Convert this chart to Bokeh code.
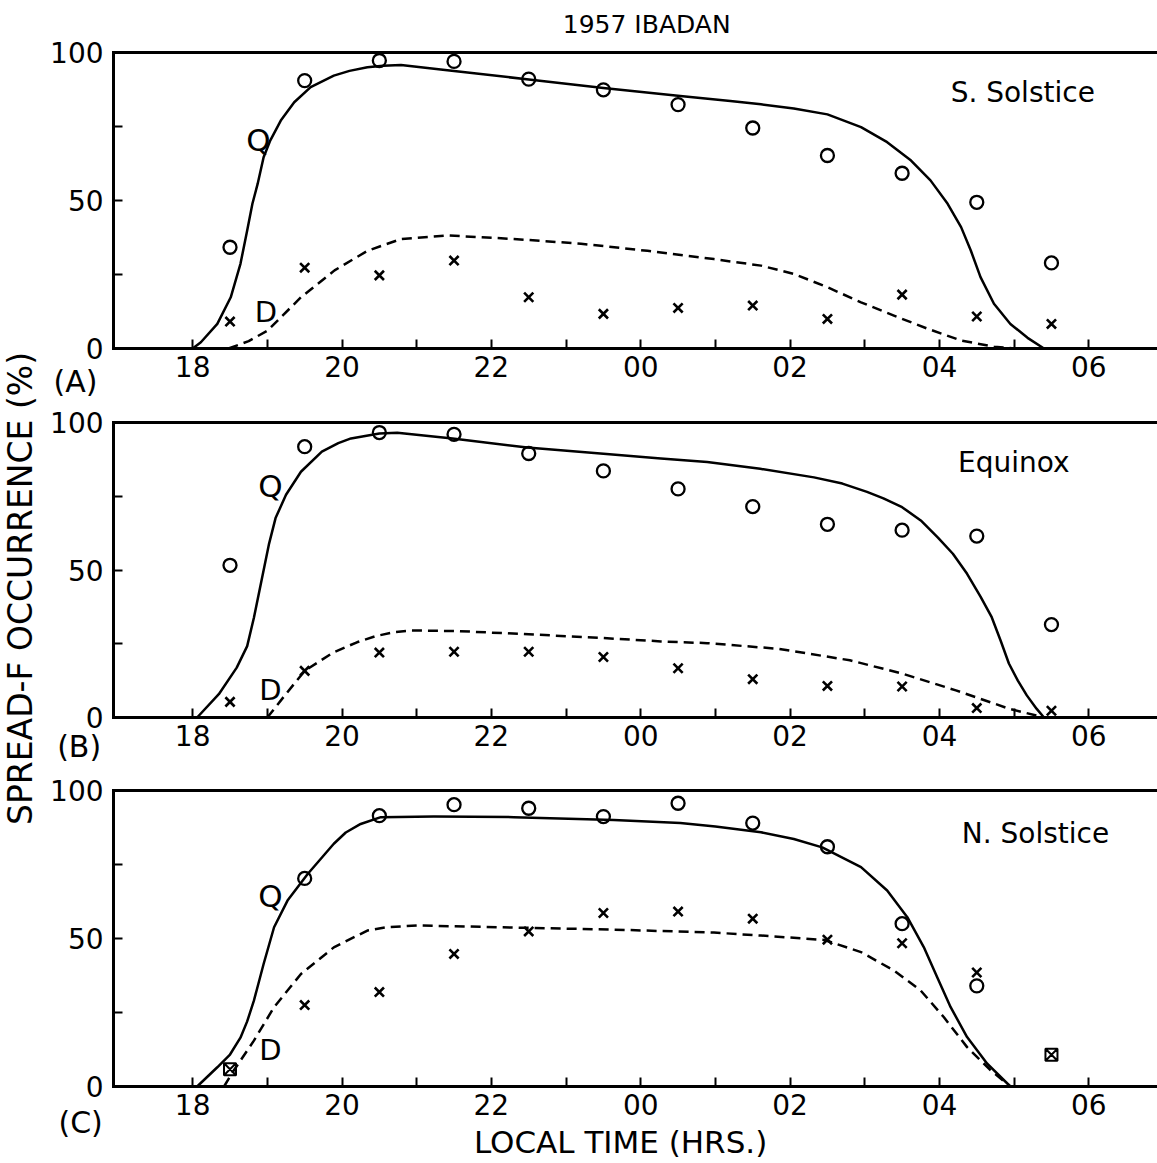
import math
from bokeh.plotting import figure
from bokeh.layouts import column, row
from bokeh.models import Range1d, LinearAxis, FixedTicker, Label
from bokeh.embed import file_html
from bokeh.resources import INLINE

# ---------------- data ----------------
hours = [18.5, 19.5, 20.5, 21.5, 22.5, 23.5, 24.5, 25.5, 26.5, 27.5, 28.5, 29.5]
hour_ticks = [18, 20, 22, 24, 26, 28, 30]
hour_tick_labels = ["18", "20", "22", "00", "02", "04", "06"]
minor_hour_ticks = [19, 21, 23, 25, 27, 29]
pct_ticks = [0, 25, 50, 75, 100]
pct_tick_labels = ["0", "", "50", "", "100"]

# (A) S. Solstice
a_circles = [34.2, 90.5, 97.3, 97.0, 91.0, 87.4, 82.4, 74.5, 65.2, 59.2, 49.4, 28.9]
a_crosses = [9.1, 27.3, 24.7, 29.7, 17.3, 11.7, 13.7, 14.5, 10.0, 18.2, 10.8, 8.3]
a_q_x = [18.0, 18.11, 18.33, 18.51, 18.64, 18.73, 18.8, 18.87, 18.95, 19.04, 19.18, 19.36,
         19.58, 19.89, 20.1, 20.34, 20.55, 20.79, 21.41, 22.53, 23.5, 24.53, 25.2, 25.61,
         26.05, 26.5, 26.95, 27.3, 27.62, 27.88, 28.11, 28.29, 28.42, 28.55, 28.73, 28.95,
         29.18, 29.4]
a_q_y = [0, 2.1, 8.3, 17.3, 28.6, 39.9, 48.9, 55.6, 64.6, 70.3, 77.0, 83.2,
         88.3, 92.2, 93.8, 95.0, 95.5, 95.8, 94.0, 90.8, 88.0, 85.3, 83.6, 82.5,
         81.1, 79.1, 74.8, 69.7, 63.5, 56.8, 48.9, 41.0, 33.1, 24.1, 15.1, 8.3,
         3.6, 0]
a_d_x = [18.48, 18.75, 19.0, 19.45, 19.9, 20.34, 20.79, 21.41, 22.3, 23.2, 24.09, 24.98,
         25.61, 26.05, 26.5, 26.95, 27.39, 27.84, 28.29, 28.73, 29.0]
a_d_y = [0, 2.5, 6.0, 17.3, 26.4, 33.0, 37.0, 38.2, 37.0, 35.4, 33.0, 30.2,
         28.0, 25.2, 20.7, 15.6, 11.1, 6.7, 2.7, 0.6, 0]

# (B) Equinox
b_circles = [51.6, 91.8, 96.6, 96.0, 89.5, 83.6, 77.5, 71.5, 65.5, 63.5, 61.5, 31.5]
b_crosses = [5.3, 15.8, 22.0, 22.3, 22.3, 20.5, 16.7, 13.0, 10.7, 10.5, 3.2, 2.3]
b_q_x = [18.06, 18.35, 18.59, 18.73, 18.82, 18.92, 19.02, 19.11, 19.25, 19.45, 19.73,
         19.95, 20.12, 20.5, 20.74, 21.48, 22.48, 23.46, 24.27, 24.89, 25.6, 26.32, 26.7,
         27.03, 27.25, 27.5, 27.75, 27.98, 28.18, 28.37, 28.55, 28.7, 28.82, 28.93, 29.05,
         29.17, 29.3, 29.4]
b_q_y = [0, 7.9, 16.9, 24.2, 33.8, 46.2, 58.6, 67.6, 75.5, 83.3, 90.1,
         93.0, 94.6, 96.3, 96.5, 94.6, 91.5, 89.5, 87.8, 86.6, 84.3, 81.4, 79.3,
         76.5, 74.3, 71.3, 66.8, 61.0, 55.5, 48.7, 41.0, 34.0, 26.0, 18.3, 12.5,
         7.5, 3.0, 0]
b_d_x = [19.0, 19.25, 19.5, 19.88, 20.2, 20.45, 20.7, 20.93, 21.55, 22.5, 23.46, 24.27,
         24.89, 25.84, 26.8, 27.5, 28.22, 28.93, 29.4]
b_d_y = [0, 8.0, 15.8, 22.0, 25.5, 27.6, 28.9, 29.5, 29.3, 28.2, 27.0, 25.8,
         25.2, 23.3, 19.4, 14.9, 9.2, 3.0, 0]

# (C) N. Solstice
c_hours = [19.5, 20.5, 21.5, 22.5, 23.5, 24.5, 25.5, 26.5, 27.5, 28.5]
c_circles = [70.3, 91.5, 95.2, 94.0, 91.2, 95.7, 89.0, 81.0, 55.0, 34.0]
c_crosses = [27.5, 31.9, 44.8, 52.4, 58.6, 59.1, 56.7, 49.6, 48.4, 38.5]
c_both_hours = [18.5, 29.5]          # circle and cross coincide
c_both = [5.8, 10.7]
c_q_x = [18.06, 18.33, 18.5, 18.64, 18.73, 18.82, 18.95, 19.09, 19.27, 19.54, 19.89,
         20.05, 20.25, 20.52, 21.23, 22.3, 23.64, 24.53, 25.0, 25.61, 26.05, 26.43, 26.95,
         27.3, 27.57, 27.79, 27.97, 28.15, 28.37, 28.64, 28.95]
c_q_y = [0, 6.5, 10.8, 16.5, 22.0, 29.0, 41.4, 53.8, 62.8, 71.8, 82.0,
         85.8, 88.7, 91.0, 91.2, 91.0, 90.0, 89.0, 87.8, 85.9, 83.6, 80.8, 74.1,
         66.2, 57.2, 47.1, 36.9, 26.8, 16.7, 7.7, 0]
c_d_x = [18.42, 18.55, 18.82, 19.09, 19.45, 19.89, 20.34, 20.6, 21.0, 22.12, 23.64, 24.98,
         25.61, 26.46, 26.95, 27.39, 27.75, 28.06, 28.37, 28.69, 28.95]
c_d_y = [0, 5.4, 15.5, 26.8, 38.0, 47.0, 52.7, 53.8, 54.4, 53.8, 53.0, 52.0,
         51.0, 49.5, 45.4, 39.2, 32.4, 23.4, 13.3, 5.4, 0]

FONT = "DejaVu Sans"
X0, X1 = 16.94, 30.92          # plotted time span (hours, 24 = midnight)
PX_PER_HOUR = 74.67
LEFT_PAD = 73                   # room left of the time span for tick labels


def lab(p, x, y, text, size, align="center"):
    p.add_layout(Label(x=x, y=y, text=text, text_font=FONT, text_font_size=size,
                       text_align=align, text_baseline="middle", text_color="black"))


def panel(height, top, frame_h, circ_x, circ, cross_x, cross, qx, qy, dx, dy,
          season, season_pos, q_pos, d_pos, tag, tag_pos):
    ppu = frame_h / 100.0
    bottom = height - top - frame_h
    xr = Range1d(X0 - LEFT_PAD / PX_PER_HOUR, X1)
    yr = Range1d(-bottom / ppu, 100 + top / ppu)
    p = figure(width=1117, height=height, x_range=xr, y_range=yr,
               x_axis_type=None, y_axis_type=None, output_backend="svg",
               toolbar_location=None, min_border=0)
    p.outline_line_color = None
    p.background_fill_color = "white"
    p.border_fill_color = "white"

    xa = LinearAxis(ticker=FixedTicker(ticks=hour_ticks, minor_ticks=minor_hour_ticks),
                    major_label_overrides=dict(zip(hour_ticks, hour_tick_labels)),
                    fixed_location=0, bounds=(X0, X1))
    ya = LinearAxis(ticker=FixedTicker(ticks=pct_ticks, minor_ticks=[]),
                    major_label_overrides=dict(zip(pct_ticks, pct_tick_labels)),
                    fixed_location=X0, bounds=(0, 100))
    for ax in (xa, ya):
        ax.axis_line_width = 3
        ax.axis_line_cap = "square"
        ax.major_tick_in = 9
        ax.major_tick_out = 0
        ax.minor_tick_in = 9
        ax.minor_tick_out = 0
        ax.major_tick_line_width = 2
        ax.minor_tick_line_width = 2
        ax.major_label_text_font = FONT
        ax.major_label_text_font_size = "28px"
        ax.major_label_text_color = "black"
    xa.major_label_standoff = 7
    ya.major_label_standoff = 10
    top_ax = LinearAxis(ticker=FixedTicker(ticks=[]), axis_line_width=3,
                        fixed_location=100, bounds=(X0, X1),
                        major_label_text_font_size="0px",
                        major_tick_line_color=None, minor_tick_line_color=None)
    p.add_layout(xa, "below")
    p.add_layout(ya, "left")
    p.add_layout(top_ax, "above")

    p.line(qx, qy, line_color="black", line_width=2.5, line_join="round")
    p.line(dx, dy, line_color="black", line_width=2.5, line_dash="10 6", line_join="round")
    p.scatter(circ_x, circ, marker="circle", size=13, fill_color=None,
              line_color="black", line_width=2.3)
    p.scatter(cross_x, cross, marker="x", size=13, line_color="black", line_width=2.6)

    lab(p, season_pos[0], season_pos[1], season, "28px", align="left")
    lab(p, q_pos[0], q_pos[1], "Q", "31px")
    lab(p, d_pos[0], d_pos[1], "D", "29px")
    lab(p, tag_pos[0], tag_pos[1], tag, "30px")
    return p


pa = panel(400, 52, 296, hours, a_circles, hours, a_crosses, a_q_x, a_q_y, a_d_x, a_d_y,
           "S. Solstice", (28.15, 86.5), (18.88, 70.3), (18.98, 12.2), "(A)", (16.43, -11.1))
lab(pa, 24.08, 109.6, "1957 IBADAN", "25px")

pb = panel(365, 22, 295, hours, b_circles, hours, b_crosses, b_q_x, b_q_y, b_d_x, b_d_y,
           "Equinox", (28.25, 86.4), (19.04, 78.6), (19.04, 9.2), "(B)", (16.48, -9.8))

pc = panel(398, 25, 296, c_hours, c_circles, c_hours, c_crosses, c_q_x, c_q_y, c_d_x, c_d_y,
           "N. Solstice", (28.3, 85.5), (19.04, 64.5), (19.04, 12.2), "(C)", (16.5, -12.2))
pc.scatter(c_both_hours, c_both, marker="square_x", size=12, fill_color=None,
           line_color="black", line_width=2)
lab(pc, 23.73, -18.9, "LOCAL TIME (HRS.)", "31px")

# vertical axis title in its own narrow strip
lf = figure(width=40, height=1163, x_range=Range1d(0, 40), y_range=Range1d(0, 1163),
            x_axis_type=None, y_axis_type=None, output_backend="svg",
            toolbar_location=None, min_border=0)
lf.outline_line_color = None
lf.add_layout(Label(x=20, y=1163 - 588, text="SPREAD-F OCCURRENCE (%)", angle=math.pi / 2,
                    text_font=FONT, text_font_size="33px", text_align="center",
                    text_baseline="middle", text_color="black"))

layout = row(lf, column(pa, pb, pc, spacing=0), spacing=0)
open("out.html", "w").write(file_html(layout, INLINE))
